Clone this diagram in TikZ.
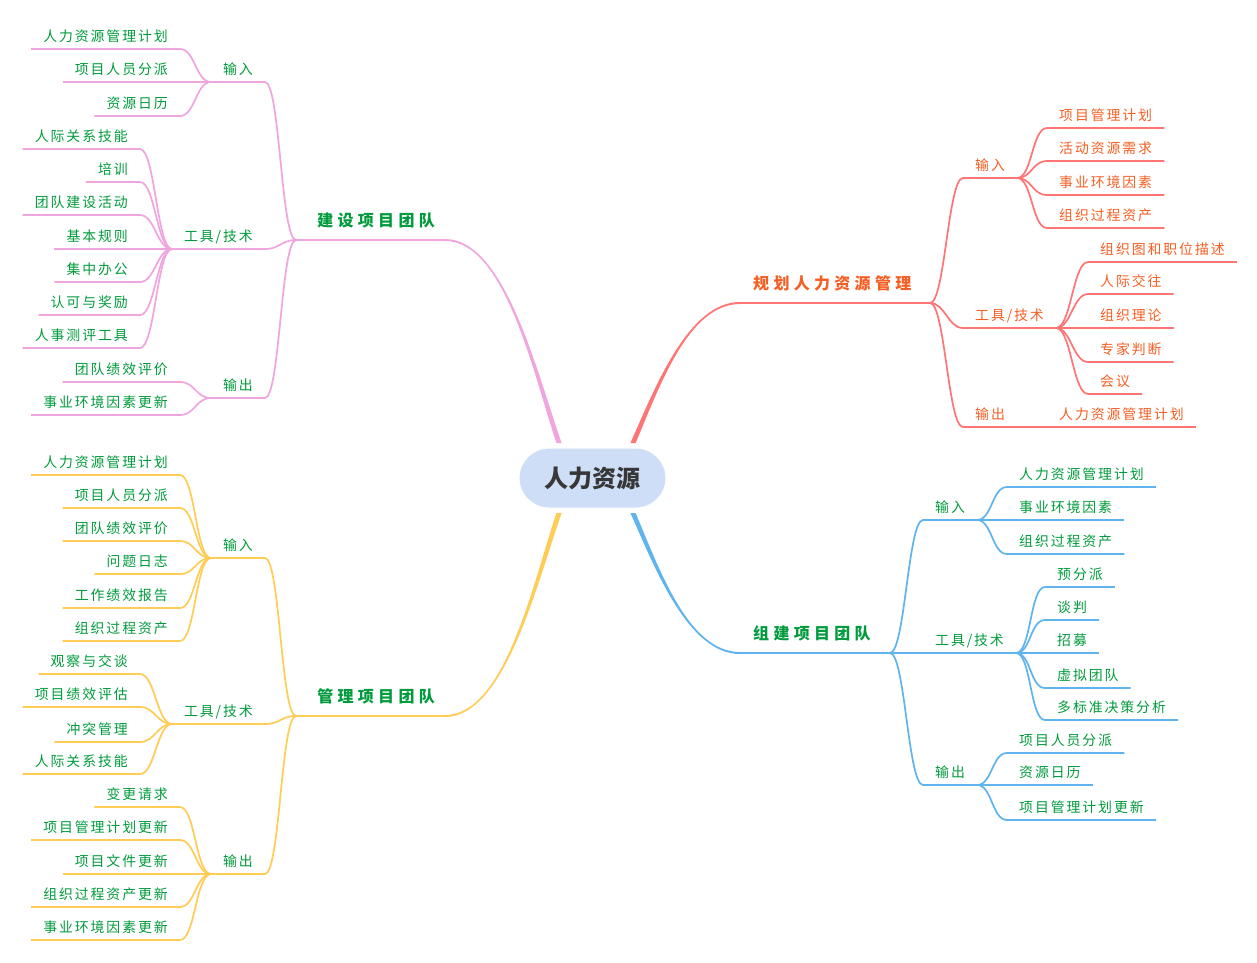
\documentclass[tikz,border=0pt]{standalone}
\usepackage{fontspec}
\setmainfont{Noto Sans CJK SC}
\usetikzlibrary{calc}
\definecolor{redline}{RGB}{255,117,117}
\definecolor{redtext}{RGB}{245,95,35}
\definecolor{pinkline}{RGB}{240,165,222}
\definecolor{blueline}{RGB}{95,180,238}
\definecolor{yellowline}{RGB}{255,204,85}
\definecolor{greentext}{RGB}{0,155,60}
\definecolor{cfill}{RGB}{206,222,246}
\definecolor{cgray}{RGB}{55,55,55}
\ExplSyntaxOn
\NewDocumentCommand\ls{O{1.9pt}m}{\tl_map_inline:nn{#2}{##1\kern#1\relax}\unkern}
\ExplSyntaxOff
% right-hand child: style, name, from-anchor, position, text
\newcommand\RN[5]{\node[#1,anchor=south west] (#2) at (#4) {#5};
  \draw[ln] (#3) .. controls +(15,0) and +(-15,0) .. (#2.south west) -- (#2.south east);}
% left-hand child
\newcommand\LN[5]{\node[#1,anchor=south east] (#2) at (#4) {#5};
  \draw[ln] (#3) .. controls +(-15,0) and +(15,0) .. (#2.south east) -- (#2.south west);}
% tapered main branch: start, c1 offset, c2 offset, end, y-offset a, y-offset b
\newcommand\taper[6]{\fill ($(#1)+(-2.6,0)$) .. controls ($(#1)+(#2)+(-2,0)$) and ($(#4)+(#3)+(0,#5)$) .. ($(#4)+(0,#5)$)
  -- ($(#4)+(0,#6)$) .. controls ($(#4)+(#3)+(0,#6)$) and ($(#1)+(#2)+(2,0)$) .. ($(#1)+(2.6,0)$) -- cycle;}
\begin{document}
\begin{tikzpicture}[x=1pt,y=-1pt,
  lf/.style={font=\fontsize{13.9}{14}\selectfont, inner xsep=12pt, inner ysep=0pt, text height=11pt, text depth=7.7pt},
  mainlab/.style={font=\fontsize{16}{16}\selectfont\bfseries, inner ysep=0pt, text height=13pt, text depth=13pt},
  ln/.style={line width=1.7pt},
  ln2/.style={line width=2.1pt},
  secR/.style={color=redline, text=redtext},
  secB/.style={color=blueline, text=greentext},
  secP/.style={color=pinkline, text=greentext},
  secY/.style={color=yellowline, text=greentext}]
\fill[white] (0,0) rectangle (1257,962);
\useasboundingbox (0,0) rectangle (1257,962);

\coordinate (r0) at (633,443);
\coordinate (b0) at (633,513);
\coordinate (p0) at (559,443);
\coordinate (y0) at (559,513);

% ---------------- red: planning
\begin{scope}[secR]
\node[mainlab, inner xsep=13pt, anchor=south west] (rm) at (740,303) {\ls[4.3pt]{规划人力资源管理}};
\coordinate (rj) at (930,303);
\taper{r0}{24,-55}{-52,0}{rm.south west}{-1}{1}
\draw[ln2] (rm.south west) -- (rj);
\RN{lf}{ri}{rj}{963,178}{\ls{输入}}
\RN{lf}{ri1}{ri.south east}{1047,128}{\ls{项目管理计划}}
\RN{lf}{ri2}{ri.south east}{1047,161}{\ls{活动资源需求}}
\RN{lf}{ri3}{ri.south east}{1047,195}{\ls{事业环境因素}}
\RN{lf}{ri4}{ri.south east}{1047,228}{\ls{组织过程资产}}
\RN{lf}{rt}{rj}{963,328}{\ls{工具/技术}}
\RN{lf}{rt1}{rt.south east}{1088,262}{\ls{组织图和职位描述}}
\RN{lf}{rt2}{rt.south east}{1088,294}{\ls{人际交往}}
\RN{lf}{rt3}{rt.south east}{1088,328}{\ls{组织理论}}
\RN{lf}{rt4}{rt.south east}{1088,362}{\ls{专家判断}}
\RN{lf}{rt5}{rt.south east}{1088,394}{\ls{会议}}
\RN{lf}{ro}{rj}{963,427}{\ls{输出}}
\RN{lf}{ro1}{ro.south east}{1047,427}{\ls{人力资源管理计划}}
\end{scope}

% ---------------- blue: acquire team
\begin{scope}[secB]
\node[mainlab, inner xsep=13pt, anchor=south west] (bm) at (740,653) {\ls[4.3pt]{组建项目团队}};
\coordinate (bj) at (890,653);
\taper{b0}{24,55}{-52,0}{bm.south west}{1}{-1}
\draw[ln2] (bm.south west) -- (bj);
\RN{lf}{bi}{bj}{923,520}{\ls{输入}}
\RN{lf}{bi1}{bi.south east}{1007,487}{\ls{人力资源管理计划}}
\RN{lf}{bi2}{bi.south east}{1007,520}{\ls{事业环境因素}}
\RN{lf}{bi3}{bi.south east}{1007,554}{\ls{组织过程资产}}
\RN{lf}{bt}{bj}{923,653}{\ls{工具/技术}}
\RN{lf}{bt1}{bt.south east}{1045,587}{\ls{预分派}}
\RN{lf}{bt2}{bt.south east}{1045,620}{\ls{谈判}}
\RN{lf}{bt3}{bt.south east}{1045,653}{\ls{招募}}
\RN{lf}{bt4}{bt.south east}{1045,688}{\ls{虚拟团队}}
\RN{lf}{bt5}{bt.south east}{1045,720}{\ls{多标准决策分析}}
\RN{lf}{bo}{bj}{923,785}{\ls{输出}}
\RN{lf}{bo1}{bo.south east}{1007,753}{\ls{项目人员分派}}
\RN{lf}{bo2}{bo.south east}{1007,785}{\ls{资源日历}}
\RN{lf}{bo3}{bo.south east}{1007,820}{\ls{项目管理计划更新}}
\end{scope}

% ---------------- pink: develop team
\begin{scope}[secP]
\node[mainlab, inner xsep=10pt, anchor=south east] (pm) at (445,240) {\ls[4.3pt]{建设项目团队}};
\coordinate (pj) at (296,240);
\taper{p0}{-24,-70}{60,0}{pm.south east}{1}{-1}
\draw[ln2] (pm.south east) -- (pj);
\LN{lf}{pi}{pj}{265,82}{\ls{输入}}
\LN{lf}{pi1}{pi.south west}{180,49}{\ls{人力资源管理计划}}
\LN{lf}{pi2}{pi.south west}{180,82}{\ls{项目人员分派}}
\LN{lf}{pi3}{pi.south west}{180,116}{\ls{资源日历}}
\LN{lf}{pt}{pj}{265,249}{\ls{工具/技术}}
\LN{lf}{pt1}{pt.south west}{140,149}{\ls{人际关系技能}}
\LN{lf}{pt2}{pt.south west}{140,182}{\ls{培训}}
\LN{lf}{pt3}{pt.south west}{140,215}{\ls{团队建设活动}}
\LN{lf}{pt4}{pt.south west}{140,249}{\ls{基本规则}}
\LN{lf}{pt5}{pt.south west}{140,282}{\ls{集中办公}}
\LN{lf}{pt6}{pt.south west}{140,315}{\ls{认可与奖励}}
\LN{lf}{pt7}{pt.south west}{140,348}{\ls{人事测评工具}}
\LN{lf}{po}{pj}{265,398}{\ls{输出}}
\LN{lf}{po1}{po.south west}{180,382}{\ls{团队绩效评价}}
\LN{lf}{po2}{po.south west}{180,415}{\ls{事业环境因素更新}}
\end{scope}

% ---------------- yellow: manage team
\begin{scope}[secY]
\node[mainlab, inner xsep=10pt, anchor=south east] (ym) at (445,716) {\ls[4.3pt]{管理项目团队}};
\coordinate (yj) at (296,716);
\taper{y0}{-24,70}{60,0}{ym.south east}{-1}{1}
\draw[ln2] (ym.south east) -- (yj);
\LN{lf}{yi}{yj}{265,558}{\ls{输入}}
\LN{lf}{yi1}{yi.south west}{180,475}{\ls{人力资源管理计划}}
\LN{lf}{yi2}{yi.south west}{180,508}{\ls{项目人员分派}}
\LN{lf}{yi3}{yi.south west}{180,541}{\ls{团队绩效评价}}
\LN{lf}{yi4}{yi.south west}{180,574}{\ls{问题日志}}
\LN{lf}{yi5}{yi.south west}{180,608}{\ls{工作绩效报告}}
\LN{lf}{yi6}{yi.south west}{180,641}{\ls{组织过程资产}}
\LN{lf}{yt}{yj}{265,724}{\ls{工具/技术}}
\LN{lf}{yt1}{yt.south west}{140,674}{\ls{观察与交谈}}
\LN{lf}{yt2}{yt.south west}{140,707}{\ls{项目绩效评估}}
\LN{lf}{yt3}{yt.south west}{140,742}{\ls{冲突管理}}
\LN{lf}{yt4}{yt.south west}{140,774}{\ls{人际关系技能}}
\LN{lf}{yo}{yj}{265,874}{\ls{输出}}
\LN{lf}{yo1}{yo.south west}{180,807}{\ls{变更请求}}
\LN{lf}{yo2}{yo.south west}{180,840}{\ls{项目管理计划更新}}
\LN{lf}{yo3}{yo.south west}{180,874}{\ls{项目文件更新}}
\LN{lf}{yo4}{yo.south west}{180,907}{\ls{组织过程资产更新}}
\LN{lf}{yo5}{yo.south west}{180,940}{\ls{事业环境因素更新}}
\end{scope}

% ---------------- centre
\node[fill=cfill, draw=white, line width=1pt, rounded corners=30pt, minimum width=147pt, minimum height=60pt,
  inner sep=0pt, text=cgray, font=\fontsize{24}{24}\selectfont\bfseries] (c) at (592.5,478) {人力资源};
\end{tikzpicture}
\end{document}
